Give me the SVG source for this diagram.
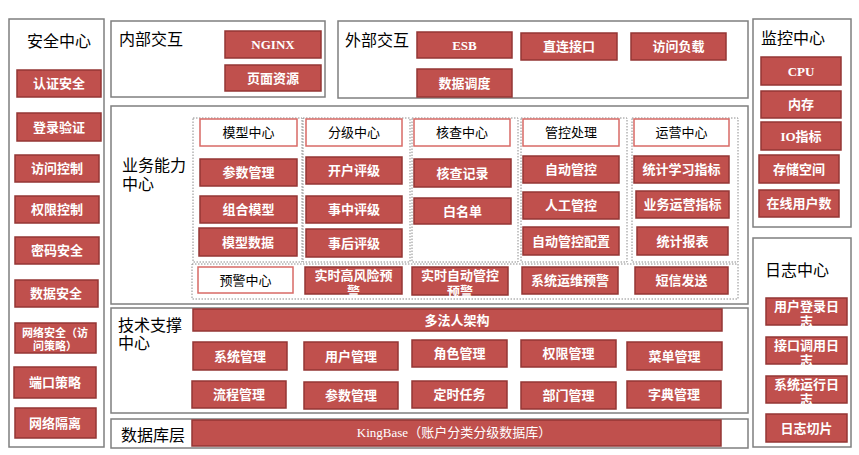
<svg xmlns="http://www.w3.org/2000/svg" width="859" height="455" viewBox="0 0 859 455">
<style>
.frame{fill:#fff;stroke:#7f7f7f;stroke-width:1.5}
.dot{fill:none;stroke:#8c8c8c;stroke-width:1;stroke-dasharray:1.5 1.5}
.red{fill:#c0504d;stroke:#943634;stroke-width:1.5}
.hdr{fill:#fff;stroke:#d86a66;stroke-width:1.5}
text{font-family:"Liberation Serif","Noto Sans CJK SC",serif}
.t{fill:#fff;font-size:13px;font-weight:bold;text-anchor:middle}
.s{font-size:11px}
.k{font-size:13px;font-weight:normal}
.h{fill:#000;font-size:13px;text-anchor:middle}
.ti{fill:#000;font-size:16px}
</style>
<rect width="859" height="455" fill="#fff"/>

<g id="security">
<rect class="frame" x="9" y="19" width="95" height="428"/>
<text class="ti" x="27" y="47">安全中心</text>
<rect class="red" x="17" y="70" width="84" height="27"/><text class="t" x="59" y="88">认证安全</text>
<rect class="red" x="17" y="113" width="84" height="28"/><text class="t" x="59" y="132">登录验证</text>
<rect class="red" x="15" y="155" width="84" height="27"/><text class="t" x="57" y="173">访问控制</text>
<rect class="red" x="15" y="196" width="84" height="27"/><text class="t" x="57" y="214">权限控制</text>
<rect class="red" x="15" y="237" width="84" height="27"/><text class="t" x="57" y="255">密码安全</text>
<rect class="red" x="15" y="280" width="83" height="27"/><text class="t" x="56" y="298">数据安全</text>
<rect class="red" x="15" y="323" width="81" height="30"/><text class="t s" x="55" y="337">网络安全（访</text><text class="t s" x="55" y="350">问策略）</text>
<rect class="red" x="14" y="367" width="82" height="31"/><text class="t" x="55" y="387">端口策略</text>
<rect class="red" x="15" y="408" width="81" height="30"/><text class="t" x="55" y="428">网络隔离</text>
</g>

<g id="internal">
<rect class="frame" x="111" y="21" width="214" height="76"/>
<text class="ti" x="119" y="45">内部交互</text>
<rect class="red" x="225" y="31" width="96" height="27"/><text class="t" x="273" y="49">NGINX</text>
<rect class="red" x="225" y="65" width="96" height="26"/><text class="t" x="273" y="83">页面资源</text>
</g>

<g id="external">
<rect class="frame" x="338" y="21" width="410" height="77"/>
<text class="ti" x="345" y="46">外部交互</text>
<rect class="red" x="417" y="32" width="95" height="26"/><text class="t" x="464.5" y="50">ESB</text>
<rect class="red" x="521" y="33" width="96" height="27"/><text class="t" x="569" y="51">直连接口</text>
<rect class="red" x="631" y="33" width="95" height="27"/><text class="t" x="678.5" y="51">访问负载</text>
<rect class="red" x="417" y="69" width="95" height="28"/><text class="t" x="464.5" y="88">数据调度</text>
</g>

<g id="monitor">
<rect class="frame" x="753" y="19" width="98" height="208"/>
<text class="ti" x="761" y="44">监控中心</text>
<rect class="red" x="761" y="57" width="80" height="28"/><text class="t" x="801" y="76">CPU</text>
<rect class="red" x="761" y="91" width="80" height="27"/><text class="t" x="801" y="109">内存</text>
<rect class="red" x="761" y="122" width="80" height="28"/><text class="t" x="801" y="141">IO指标</text>
<rect class="red" x="759" y="155" width="80" height="28"/><text class="t" x="799" y="174">存储空间</text>
<rect class="red" x="759" y="190" width="80" height="27"/><text class="t" x="799" y="208">在线用户数</text>
</g>

<g id="log">
<rect class="frame" x="753" y="238" width="98" height="209"/>
<text class="ti" x="765" y="276">日志中心</text>
<rect class="red" x="766" y="298" width="81" height="27"/><text class="t" x="806.5" y="311">用户登录日</text><text class="t" x="806.5" y="326">志</text>
<rect class="red" x="766" y="337" width="81" height="27"/><text class="t" x="806.5" y="350">接口调用日</text><text class="t" x="806.5" y="365">志</text>
<rect class="red" x="766" y="376" width="81" height="27"/><text class="t" x="806.5" y="389">系统运行日</text><text class="t" x="806.5" y="404">志</text>
<rect class="red" x="766" y="414" width="81" height="28"/><text class="t" x="806.5" y="433">日志切片</text>
</g>

<g id="business">
<rect class="frame" x="111" y="106" width="637" height="198"/>
<text class="ti" x="122" y="171">业务能力</text>
<text class="ti" x="122" y="190">中心</text>
<rect class="dot" x="193" y="118" width="109" height="144"/>
<rect class="dot" x="303" y="118" width="107" height="144"/>
<rect class="dot" x="412" y="118" width="106" height="144"/>
<rect class="dot" x="521" y="118" width="106" height="144"/>
<rect class="dot" x="632" y="118" width="106" height="144"/>
<rect class="dot" x="192" y="264" width="546" height="35"/>
</g>

<g id="model-center">
<rect class="hdr" x="200" y="119" width="97" height="27"/><text class="h" x="248.5" y="137">模型中心</text>
<rect class="red" x="200" y="159" width="97" height="27"/><text class="t" x="248.5" y="177">参数管理</text>
<rect class="red" x="200" y="196" width="97" height="27"/><text class="t" x="248.5" y="214">组合模型</text>
<rect class="red" x="199" y="228" width="98" height="28"/><text class="t" x="248" y="247">模型数据</text>
</g>

<g id="grade-center">
<rect class="hdr" x="306" y="119" width="96" height="27"/><text class="h" x="354" y="137">分级中心</text>
<rect class="red" x="306" y="157" width="96" height="27"/><text class="t" x="354" y="175">开户评级</text>
<rect class="red" x="306" y="196" width="96" height="27"/><text class="t" x="354" y="214">事中评级</text>
<rect class="red" x="306" y="229" width="96" height="28"/><text class="t" x="354" y="248">事后评级</text>
</g>

<g id="check-center">
<rect class="hdr" x="414" y="119" width="96" height="27"/><text class="h" x="462" y="137">核查中心</text>
<rect class="red" x="414" y="159" width="97" height="28"/><text class="t" x="462.5" y="178">核查记录</text>
<rect class="red" x="414" y="198" width="97" height="26"/><text class="t" x="462.5" y="216">白名单</text>
</g>

<g id="control">
<rect class="hdr" x="523" y="119" width="96" height="27"/><text class="h" x="571" y="137">管控处理</text>
<rect class="red" x="523" y="156" width="96" height="27"/><text class="t" x="571" y="174">自动管控</text>
<rect class="red" x="523" y="192" width="96" height="27"/><text class="t" x="571" y="210">人工管控</text>
<rect class="red" x="523" y="227" width="96" height="28"/><text class="t" x="571" y="246">自动管控配置</text>
</g>

<g id="operation-center">
<rect class="hdr" x="634" y="119" width="95" height="27"/><text class="h" x="681.5" y="137">运营中心</text>
<rect class="red" x="634" y="156" width="95" height="27"/><text class="t" x="681.5" y="174">统计学习指标</text>
<rect class="red" x="636" y="191" width="93" height="27"/><text class="t" x="682.5" y="209">业务运营指标</text>
<rect class="red" x="637" y="227" width="91" height="28"/><text class="t" x="682.5" y="246">统计报表</text>
</g>

<g id="alert-center">
<rect class="hdr" x="198" y="267" width="95" height="26"/><text class="h" x="245.5" y="285">预警中心</text>
<rect class="red" x="305" y="267" width="97" height="27"/><text class="t" x="353.5" y="280">实时高风险预</text><text class="t" x="353.5" y="296">警</text>
<rect class="red" x="412" y="267" width="96" height="28"/><text class="t" x="460" y="280">实时自动管控</text><text class="t" x="460" y="296">预警</text>
<rect class="red" x="522" y="267" width="96" height="27"/><text class="t" x="570" y="285">系统运维预警</text>
<rect class="red" x="635" y="267" width="93" height="27"/><text class="t" x="681.5" y="285">短信发送</text>
</g>

<g id="tech-support">
<rect class="frame" x="111" y="308" width="637" height="105"/>
<text class="ti" x="118" y="331">技术支撑</text>
<text class="ti" x="118" y="349">中心</text>
<rect class="red" x="193" y="309" width="529" height="22"/><text class="t" x="457" y="325">多法人架构</text>
<rect class="red" x="193" y="342" width="94" height="28"/><text class="t" x="240" y="361">系统管理</text>
<rect class="red" x="304" y="342" width="94" height="28"/><text class="t" x="351" y="361">用户管理</text>
<rect class="red" x="412" y="340" width="95" height="27"/><text class="t" x="459.5" y="358">角色管理</text>
<rect class="red" x="521" y="340" width="95" height="27"/><text class="t" x="568.5" y="358">权限管理</text>
<rect class="red" x="627" y="342" width="95" height="28"/><text class="t" x="674.5" y="361">菜单管理</text>
<rect class="red" x="192" y="381" width="94" height="27"/><text class="t" x="239" y="399">流程管理</text>
<rect class="red" x="304" y="382" width="94" height="27"/><text class="t" x="351" y="400">参数管理</text>
<rect class="red" x="412" y="381" width="95" height="27"/><text class="t" x="459.5" y="399">定时任务</text>
<rect class="red" x="521" y="382" width="95" height="27"/><text class="t" x="568.5" y="400">部门管理</text>
<rect class="red" x="627" y="381" width="94" height="27"/><text class="t" x="674" y="399">字典管理</text>
</g>

<g id="database">
<rect class="frame" x="111" y="419" width="637" height="29"/>
<text class="ti" x="121" y="441">数据库层</text>
<rect class="red" x="192" y="420" width="529" height="26"/><text class="t k" x="454" y="437">KingBase（账户分类分级数据库）</text>
</g>
</svg>
